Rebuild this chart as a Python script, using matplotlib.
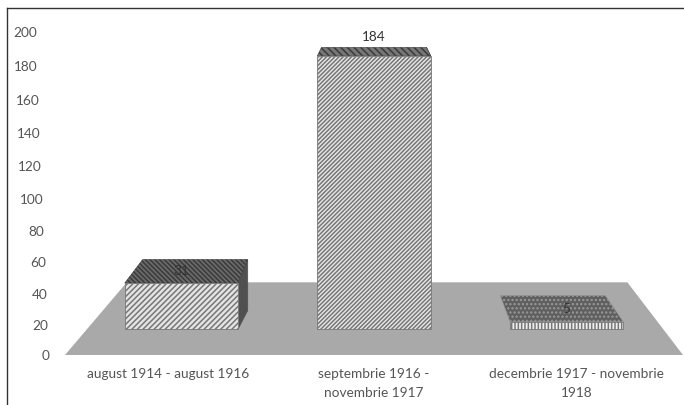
import matplotlib
matplotlib.use("Agg")
import matplotlib.pyplot as plt
from matplotlib.transforms import ScaledTranslation

plt.rcParams['font.family'] = ['Lato', 'DejaVu Sans']
plt.rcParams['hatch.linewidth'] = 1.1

# data
categories = ["august 1914 - august 1916", "septembrie 1916 -\nnovembrie 1917", "decembrie 1917 - novembrie\n1918"]
values = [31, 184, 5]
y_ticks = [0, 20, 40, 60, 80, 100, 120, 140, 160, 180, 200]

W, H = 684, 405
TEXT = '#555555'

fig = plt.figure(figsize=(W / 100, H / 100), dpi=100)
# axes box in pixels: x 65..683, y 355 (zero) up to 32 (200)
ax = fig.add_axes([65 / W, (H - 355) / H, 618 / W, 323 / H])
ax.set_xlim(-0.5, 2.5)
ax.set_ylim(0, 200)
ax.patch.set_alpha(0)
for s in ax.spines.values():
    s.set_visible(False)

ax.set_yticks(y_ticks)
ax.set_xticks([0, 1, 1.985])
ax.set_xticklabels(categories, linespacing=1.75)
ax.tick_params(axis='both', length=0, labelsize=9.8, labelcolor=TEXT)
ax.tick_params(axis='y', pad=11)
ax.tick_params(axis='x', pad=9)

# the value axis is slanted in the original, labels drift left going up
for tick, label in zip(y_ticks, ax.get_yticklabels()):
    dx = -tick * 0.065
    dy = -5 * (1 - ((tick - 100) / 100) ** 2)
    label.set_transform(label.get_transform() + ScaledTranslation(dx / 100, dy / 100, fig.dpi_scale_trans))

# 3d look: floor plane and perspective boxes
FLOOR_FRONT = 16.0     # front edge of boxes above the axis zero
BAR_SCALE = 0.92       # value units shrink a bit at the front plane
ax.fill([-0.5, 2.5, 2.23, -0.2], [0, 0, 45, 45], color='#a9a9a9', lw=0, zorder=1)

styles = [
    dict(front='//////', top='\\\\\\\\\\\\\\', side='#505050', top_bg='#6a6a6a', front_bg='#e4e4e4', top_hatch='#3a3a3a', front_hatch='#666666'),
    dict(front='////////', top='\\\\\\\\\\', side='#666666', top_bg='#777777', front_bg='#e8e8e8', top_hatch='#3a3a3a', front_hatch='#b2b2b2'),
    dict(front='|||||', top='....', side='#555555', top_bg='#5f5f5f', front_bg='#f0f0f0', top_hatch='#999999', front_hatch='#555555'),
]

for i, v in enumerate(values):
    st = styles[i]
    xf = 1 + (i - 1) * 0.935
    xb = 1 + (i - 1) * 0.868
    wf, wb = 0.55 / 2, 0.51 / 2
    y0 = FLOOR_FRONT
    y1 = y0 + v * BAR_SCALE
    # the higher up, the flatter the top face looks
    d1 = 16.5 - (y1 - y0) * 0.067
    d0 = 16.5

    # right side
    if i < 2:
        ax.fill([xf + wf, xb + wb, xb + wb, xf + wf], [y0, y0 + d0 * 0.7, y1 + d1, y1],
                facecolor=st['side'], edgecolor=st['side'], lw=0.5, zorder=2)
    # top face
    ax.fill([xf - wf, xf + wf, xb + wb, xb - wb], [y1, y1, y1 + d1, y1 + d1],
            facecolor=st['top_bg'], edgecolor=st['top_hatch'], hatch=st['top'], lw=0.4, zorder=3)
    # front face
    ax.fill([xf - wf, xf + wf, xf + wf, xf - wf], [y0, y0, y1, y1],
            facecolor=st['front_bg'], edgecolor='#777777', hatch=st['front'], lw=0.6, zorder=4)
    # value label, tall bar has it above the box
    label_y = y1 + d1 + 6.5 if v > 100 else y1 + d1 * 0.5
    ax.text(xf, label_y, str(v), ha='center', va='center',
            fontsize=9.8, color='#333333', zorder=5)

# scanned frame
fig.add_artist(plt.Line2D([7 / W, 7 / W], [0, 1 - 8 / H], color='#333333', lw=1))
fig.add_artist(plt.Line2D([7 / W, 1], [1 - 8 / H, 1 - 8 / H], color='#333333', lw=1))

fig.savefig("out.png", dpi=100)
